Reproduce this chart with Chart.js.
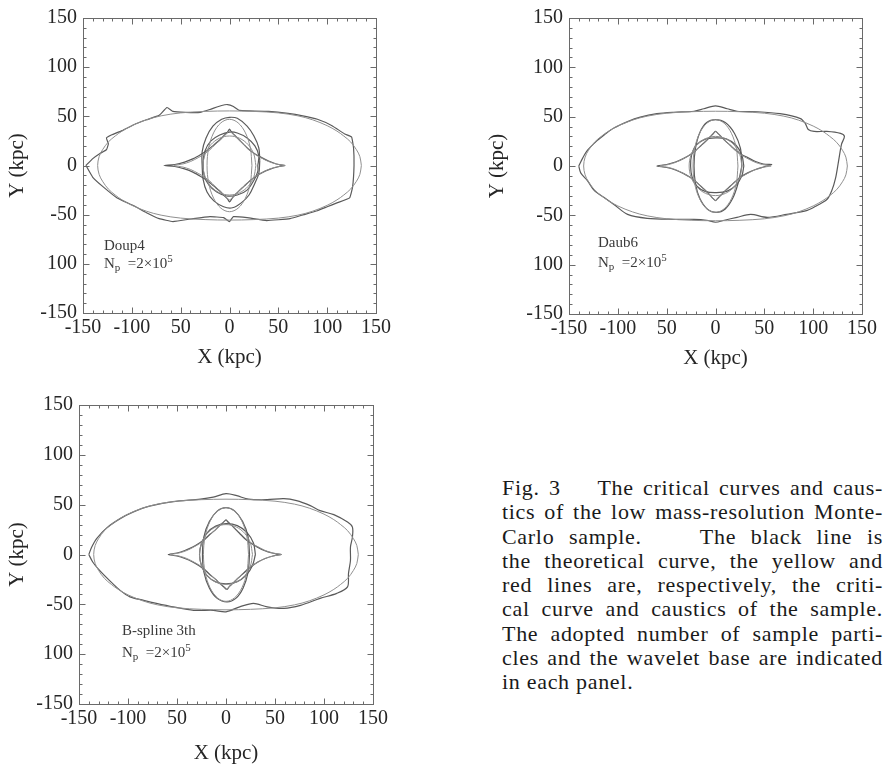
<!DOCTYPE html>
<html>
<head>
<meta charset="utf-8">
<script src="https://cdn.jsdelivr.net/npm/chart.js@4/dist/chart.umd.min.js"></script>
<style>
  html, body { margin: 0; padding: 0; background: #fff; }
  body { width: 885px; height: 765px; position: relative; overflow: hidden;
         font-family: "Liberation Serif", "Times New Roman", Times, "DejaVu Serif", serif; }
  canvas { position: absolute; }
  .note { position: absolute; font-size: 15px; line-height: 15px; color: #3a3a3a; white-space: nowrap; }
  .note sub { font-size: 11px; vertical-align: -3px; line-height: 0; }
  .note sup { font-size: 11px; vertical-align: 6px; line-height: 0; }
  #caption { position: absolute; left: 502px; top: 476px; width: 381px;
             font-size: 22px; line-height: 24.3px; color: #1a1a1a; letter-spacing: 0.7px; }
  #caption div { text-align: justify; text-align-last: justify; white-space: nowrap; }
  #caption div.last { text-align-last: left; }
</style>
</head>
<body>
<canvas id="p1" width="420" height="380" style="left:0;top:0"></canvas>
<canvas id="p2" width="445" height="380" style="left:440px;top:0"></canvas>
<canvas id="p3" width="420" height="385" style="left:0;top:380px"></canvas>

<div class="note" style="left:104px;top:238px">Doup4</div>
<div class="note" style="left:104px;top:256px">N<sub>p</sub>&nbsp; =2×10<sup>5</sup></div>
<div class="note" style="left:598px;top:235px">Daub6</div>
<div class="note" style="left:598px;top:255px">N<sub>p</sub>&nbsp; =2×10<sup>5</sup></div>
<div class="note" style="left:122px;top:623px">B-spline 3th</div>
<div class="note" style="left:122px;top:645px">N<sub>p</sub>&nbsp; =2×10<sup>5</sup></div>

<div id="caption">
  <div>Fig. 3 &nbsp;&nbsp; The critical curves and caus-</div>
  <div>tics of the low mass-resolution Monte-</div>
  <div>Carlo sample. &nbsp;&nbsp; The black line is</div>
  <div>the theoretical curve, the yellow and</div>
  <div>red lines are, respectively, the criti-</div>
  <div>cal curve and caustics of the sample.</div>
  <div>The adopted number of sample parti-</div>
  <div>cles and the wavelet base are indicated</div>
  <div class="last">in each panel.</div>
</div>

<script>
// Axis tick values and their printed labels
const tickValues = [-150, -100, -50, 0, 50, 100, 150];
const xTickLabels = ['-150', '-100', '50', '0', '50', '100', '150'];
const yTickLabels = ['-150', '100', '-50', '0', '50', '100', '150'];

// Theoretical curves (kpc)
const theoryCritOuter = [[135,0],[133.5,9],[130,16],[124,24],[117,30],[110,35],[100,40.5],[85,46.5],[70,50.5],[50,53.5],[25,55],[0,55.5],[-25,55],[-50,53.5],[-70,50.5],[-85,46.5],[-100,40.5],[-110,35],[-117,30],[-124,24],[-130,16],[-133.5,9],[-135,0],[-133.5,-9],[-130,-16],[-124,-24],[-117,-30],[-110,-35],[-100,-40.5],[-85,-46.5],[-70,-50.5],[-50,-53.5],[-25,-55],[0,-55.5],[25,-55],[50,-53.5],[70,-50.5],[85,-46.5],[100,-40.5],[110,-35],[117,-30],[124,-24],[130,-16],[133.5,-9],[135,0]];
const theoryCritInner = [[23,0],[21.3,18],[16.3,33.2],[8.8,43.4],[0,47],[-8.8,43.4],[-16.3,33.2],[-21.3,18],[-23,0],[-21.3,-18],[-16.3,-33.2],[-8.8,-43.4],[0,-47],[8.8,-43.4],[16.3,-33.2],[21.3,-18],[23,0]];
const theoryCausticTan = [[57,0],[48,1.5],[40,4],[32,8],[26,11.5],[20,16],[15,21],[10,25.5],[6,29.5],[3,32.5],[0,35],[-3,32.5],[-6,29.5],[-10,25.5],[-15,21],[-20,16],[-26,11.5],[-32,8],[-40,4],[-48,1.5],[-57,0],[-48,-1.5],[-40,-4],[-32,-8],[-26,-11.5],[-20,-16],[-15,-21],[-10,-25.5],[-6,-29.5],[-3,-32.5],[0,-35],[3,-32.5],[6,-29.5],[10,-25.5],[15,-21],[20,-16],[26,-11.5],[32,-8],[40,-4],[48,-1.5],[57,0]];
const theoryCausticRad = [[27,0],[24.9,11.5],[19.1,21.2],[10.3,27.7],[0,30],[-10.3,27.7],[-19.1,21.2],[-24.9,11.5],[-27,0],[-24.9,-11.5],[-19.1,-21.2],[-10.3,-27.7],[0,-30],[10.3,-27.7],[19.1,-21.2],[24.9,-11.5],[27,0]];

// Doup4 sample
const doupCritOuter = [[-147,0],[-140,7],[-133,12],[-126,16],[-124,22],[-126,28],[-121,31],[-110,35.5],[-98,41.5],[-85,46.5],[-72,51],[-64,59],[-58,55],[-45,54],[-30,54],[-20,57],[-8,61],[-2,62],[4,60],[10,56],[20,55.5],[40,55],[60,53],[75,50.5],[90,47],[105,40.5],[118,32],[125,29],[127,18],[127.5,0],[126,-22],[123,-33],[110,-38],[100,-42],[90,-46],[76,-50],[62,-54],[38,-56],[18,-53],[4,-52],[0,-57],[-6,-53],[-20,-52],[-37,-54],[-58,-57],[-72,-54],[-85,-48],[-98,-41],[-115,-33],[-129,-22],[-140,-12],[-147,0]];
const doupCritInner = [[31,5],[30,18],[25,30],[18,40],[8,48],[0,49],[-8,47],[-17,40],[-24,28],[-28,14],[-28,0],[-27,-14],[-23,-27],[-16,-36],[-6,-42],[3,-43],[12,-38],[20,-30],[26,-18],[30,-8],[31,5]];
const doupCausticTan = [[57,0],[48,1.5],[40,4.5],[32,8.5],[25,12.5],[19,17],[14,22],[9,27],[5,31],[2,34],[0,37],[-2,34],[-6,30],[-10,26],[-16,21],[-22,16],[-29,11.5],[-37,7],[-46,3.5],[-56,1],[-67,0],[-56,-1],[-46,-3.5],[-37,-7],[-29,-11.5],[-22,-16],[-16,-21],[-10,-26],[-6,-30],[-2,-34],[0,-37],[3,-33],[6,-29.5],[10,-25.5],[15,-21],[21,-15.5],[27,-11],[33,-7.5],[41,-4],[49,-1.5],[57,0]];
const doupCausticRad = [[29,0],[30,10],[26,20],[18,28],[8,33],[0,34],[-10,31],[-19,25],[-25,15],[-27,3],[-26,-10],[-21,-20],[-13,-27],[-3,-31],[8,-30],[18,-25],[25,-15],[29,-6],[29,0]];

// Daub6 sample
const daubCritOuter = [[-140,0],[-136,8],[-131,16],[-121,26],[-114,31.5],[-104,38.5],[-90,45],[-77,49.5],[-60,53],[-43,54.5],[-22,55.5],[-12,58],[0,61],[12,58],[22,55.5],[43,55],[66,53],[87,48],[92,43],[95,37],[101,35],[114,35],[128,33],[132,30],[129,22],[126,5],[123,-12],[119,-25],[114,-34],[104,-40],[94,-45],[73,-49],[53,-52],[36,-49],[22,-52],[9,-55],[0,-57],[-9,-55],[-22,-54],[-43,-54],[-70,-53],[-90,-49],[-104,-39],[-114,-32],[-124,-25],[-131,-15],[-138,-7],[-140,0]];
const daubCritInner = [[27,0],[25.5,18],[19.5,33],[10,44],[0,47],[-9,44],[-16,34],[-20.5,18],[-22,0],[-20.5,-18],[-16,-33],[-8.5,-43.5],[1,-47],[10,-43.5],[17.5,-33],[23,-18],[27,0]];
const daubCausticTan = [[58,1.5],[49,2],[41,4.5],[33,8.5],[26,12],[20,16.5],[15,21],[10,25.5],[6,29.5],[3,32.5],[0,35],[-3,32],[-6,29],[-10,25],[-15,20.5],[-20,16],[-26,11.5],[-33,7.5],[-41,4],[-50,1.5],[-60,0],[-50,-1.5],[-41,-4],[-33,-7.5],[-26,-11.5],[-20,-16],[-15,-20.5],[-10,-25],[-6,-29],[-3,-32.5],[0,-35],[3,-32],[6,-29],[10,-25],[15,-20.5],[20,-16],[26,-11],[33,-7],[41,-3.5],[49,-1],[58,1.5]];
const daubCausticRad = [[29,0],[27,11],[21,21],[11,27.5],[0,28.5],[-11,27],[-20,21],[-24.5,11],[-25.5,0],[-24,-11],[-19,-20.5],[-10,-26],[1,-27],[12,-25.5],[21,-19.5],[27,-10],[29,0]];

// B-spline 3th sample
const splineCritOuter = [[-140,0],[-137,7.5],[-132,16],[-122,26.5],[-108,36],[-95,42.5],[-78,48.5],[-54,53],[-26,55.5],[-13,57.5],[0,61],[11,59],[23,55.5],[42,55],[59,56],[72,54],[86,49],[96,44],[110,40],[124,32.5],[129,27.5],[129,17.5],[127,7.5],[127,-6],[125,-19],[124,-32.5],[113,-39],[96,-44],[76,-51],[59,-54],[42,-52.5],[28,-49],[14,-52.5],[0,-57.5],[-13,-56],[-33,-56],[-54,-52.5],[-71,-49],[-84,-46],[-98,-42.5],[-108,-36],[-119,-26],[-129,-16],[-136,-7.5],[-140,0]];
const splineCritInner = [[24,0],[22.5,18],[17,33],[9,43.5],[0,47],[-9,43.5],[-17,33],[-22.5,18],[-24,0],[-22.5,-18],[-17,-33.5],[-9,-44],[1,-47.5],[10,-44],[17.5,-33.5],[22.5,-18],[24,0]];
const splineCausticTan = [[56.5,0],[47,1.5],[39,4],[31,8],[25,11.5],[19,16],[14,21],[9.5,25.5],[5.5,29.5],[2.5,32],[0,34.5],[-3,32],[-6.5,29],[-10.5,25],[-16,20.5],[-21,16],[-27,11.5],[-34,7.5],[-42,4],[-50,1.5],[-59,0],[-50,-1.5],[-42,-4],[-34,-7.5],[-27,-11.5],[-21,-16],[-16,-20.5],[-10.5,-25],[-6,-29.5],[-2,-32.5],[1,-35],[3.5,-32],[7,-29],[11,-25],[16,-20.5],[21,-16],[26.5,-11.5],[32.5,-7.5],[40,-4],[48,-1.5],[56.5,0]];
const splineCausticRad = [[30,0],[28,11.5],[21.5,22],[11.5,29],[0,31],[-10.5,28.5],[-19.5,21.5],[-25,11],[-27,0],[-25,-11],[-19.5,-21],[-10.5,-27.5],[0,-29.5],[11,-27.5],[20.5,-21],[27,-11],[30,0]];

const SERIF = '"Liberation Serif", "Times New Roman", Times, "DejaVu Serif", serif';
const THEORY_COLOR = '#8f8f8f';
const SAMPLE_COLOR = '#5a5a5a';
const TEXT_COLOR = '#262626';
const FRAME_COLOR = '#6a6a6a';
const AXIS_MIN = -150, AXIS_MAX = 150, MINOR_STEP = 10, MAJOR_STEP = 50;

function curve(points, color, width, tension) {
  return {
    data: points.map(([x, y]) => ({ x, y })),
    showLine: true, fill: false, pointRadius: 0, pointHoverRadius: 0,
    borderColor: color, borderWidth: width, tension
  };
}

// Box frame with inward major/minor tick marks on all four sides
const frameTicks = {
  id: 'frameTicks',
  afterDraw(chart) {
    const { ctx, chartArea: a, scales: { x, y } } = chart;
    ctx.save();
    ctx.strokeStyle = FRAME_COLOR;
    ctx.lineWidth = 1;
    const L = Math.round(a.left) + 0.5, R = Math.round(a.right) + 0.5;
    const T = Math.round(a.top) + 0.5, B = Math.round(a.bottom) + 0.5;
    ctx.strokeRect(L, T, R - L, B - T);
    ctx.beginPath();
    for (let v = AXIS_MIN; v <= AXIS_MAX; v += MINOR_STEP) {
      const len = v % MAJOR_STEP === 0 ? 6 : 3;
      const px = Math.round(x.getPixelForValue(v)) + 0.5;
      ctx.moveTo(px, B); ctx.lineTo(px, B - len);
      ctx.moveTo(px, T); ctx.lineTo(px, T + len);
      const py = Math.round(y.getPixelForValue(v)) + 0.5;
      ctx.moveTo(L, py); ctx.lineTo(L + len, py);
      ctx.moveTo(R, py); ctx.lineTo(R - len, py);
    }
    ctx.stroke();
    ctx.restore();
  }
};

function panel(id, sets, lay) {
  const tickFont = { family: SERIF, size: 20 };
  const titleFont = { family: SERIF, size: 21, lineHeight: 1 };
  new Chart(document.getElementById(id), {
    type: 'scatter',
    data: {
      datasets: [
        curve(theoryCritOuter, THEORY_COLOR, 1, 0.35),
        curve(theoryCritInner, THEORY_COLOR, 1, 0.35),
        curve(theoryCausticRad, THEORY_COLOR, 1, 0.35),
        curve(theoryCausticTan, THEORY_COLOR, 1, 0.3),
        curve(sets.outer, SAMPLE_COLOR, 1.2, lay.outerTension),
        curve(sets.inner, SAMPLE_COLOR, 1.2, 0.35),
        curve(sets.rad, SAMPLE_COLOR, 1.2, 0.35),
        curve(sets.tan, SAMPLE_COLOR, 1.2, 0.3)
      ]
    },
    options: {
      responsive: false, animation: false, devicePixelRatio: 1,
      layout: { padding: { top: lay.padTop, right: lay.padRight, left: 0, bottom: 0 } },
      plugins: { legend: { display: false }, tooltip: { enabled: false } },
      events: [],
      scales: {
        x: {
          type: 'linear', min: AXIS_MIN, max: AXIS_MAX,
          grid: { display: false, drawTicks: false }, border: { display: false },
          ticks: {
            stepSize: MAJOR_STEP, autoSkip: false, maxRotation: 0, padding: lay.xTickPad,
            color: TEXT_COLOR, font: tickFont,
            callback: (v) => xTickLabels[tickValues.indexOf(v)]
          },
          title: { display: true, text: 'X (kpc)', color: TEXT_COLOR, font: titleFont,
                   padding: { top: 0, bottom: lay.xTitlePad } },
          afterFit: (s) => { s.height = lay.xAxisH; }
        },
        y: {
          type: 'linear', min: AXIS_MIN, max: AXIS_MAX,
          grid: { display: false, drawTicks: false }, border: { display: false },
          ticks: {
            stepSize: MAJOR_STEP, autoSkip: false, padding: 6,
            color: TEXT_COLOR, font: tickFont,
            callback: (v) => yTickLabels[tickValues.indexOf(v)]
          },
          title: { display: true, text: 'Y (kpc)', color: TEXT_COLOR, font: titleFont,
                   padding: { top: lay.yTitlePad, bottom: 0 } },
          afterFit: (s) => { s.width = lay.yAxisW; }
        }
      }
    },
    plugins: [frameTicks]
  });
}

panel('p1', { outer: doupCritOuter, inner: doupCritInner, rad: doupCausticRad, tan: doupCausticTan },
      { padTop: 16, padRight: 44, yAxisW: 83, xAxisH: 67, xTickPad: 3, xTitlePad: 12.5, yTitlePad: 6.5, outerTension: 0.1 });
panel('p2', { outer: daubCritOuter, inner: daubCritInner, rad: daubCausticRad, tan: daubCausticTan },
      { padTop: 16, padRight: 23, yAxisW: 129, xAxisH: 66, xTickPad: 3, xTitlePad: 11.5, yTitlePad: 46.5, outerTension: 0.3 });
panel('p3', { outer: splineCritOuter, inner: splineCritInner, rad: splineCausticRad, tan: splineCausticTan },
      { padTop: 25, padRight: 47, yAxisW: 79, xAxisH: 61, xTickPad: 3, xTitlePad: 1.5, yTitlePad: 7, outerTension: 0.3 });
</script>
</body>
</html>
